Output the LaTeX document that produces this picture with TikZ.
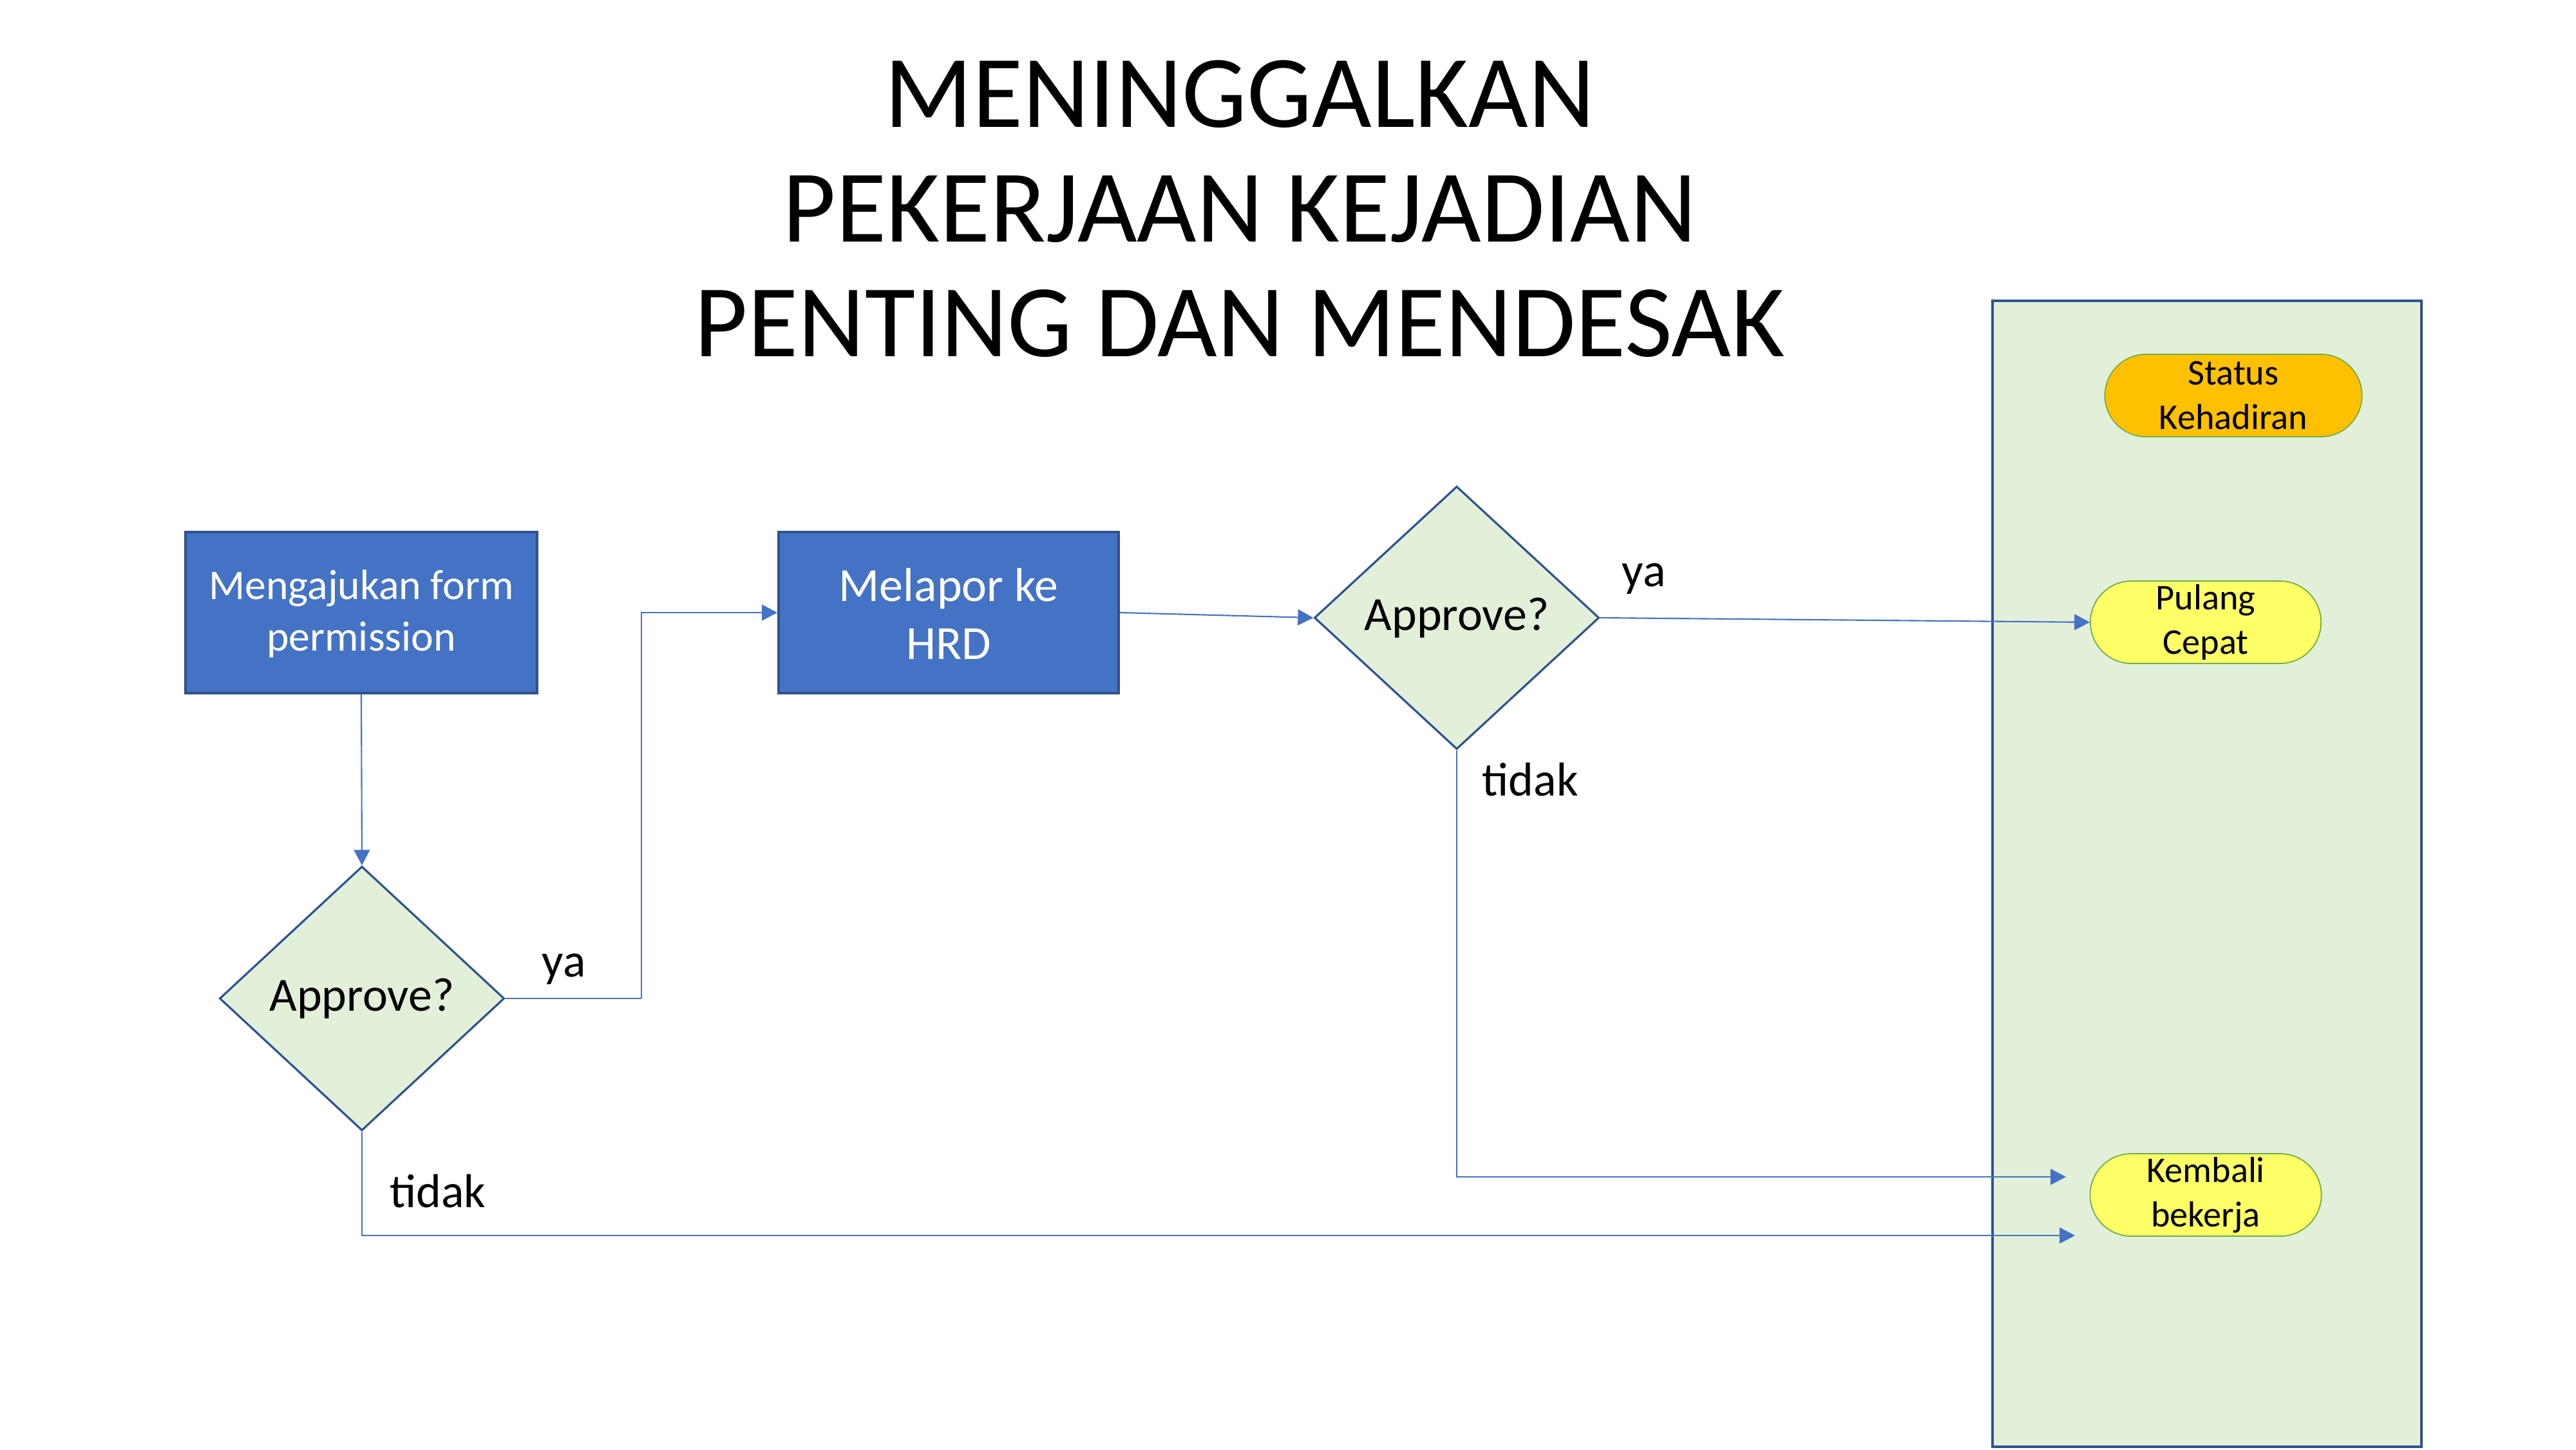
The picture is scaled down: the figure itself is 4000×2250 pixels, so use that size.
\documentclass[tikz,border=0pt]{standalone}
\usepackage{fontspec}
\setmainfont{Carlito}
\usetikzlibrary{shapes.geometric,arrows.meta}
\definecolor{boxblue}{HTML}{4472C4}
\definecolor{darkblue}{HTML}{2F528F}
\definecolor{lightgreen}{HTML}{E2F0D9}
\definecolor{ovalgreen}{HTML}{70AD47}
\definecolor{amber}{HTML}{FFC000}
\definecolor{paleyellow}{HTML}{FFFF66}
\begin{document}
\begin{tikzpicture}[x=0.01cm,y=-0.01cm,
  procbox/.style={draw=darkblue, line width=1pt, fill=boxblue, text=white,
    minimum height=2.5cm, align=center, inner sep=0pt},
  decision/.style={diamond, draw=darkblue, line width=0.9pt, fill=lightgreen,
    minimum width=4.42cm, inner sep=0pt, align=center,
    font=\fontsize{21}{25.6}\selectfont},
  oval/.style={draw=ovalgreen, line width=0.5pt, rounded corners=0.64cm,
    minimum height=1.28cm, inner sep=0pt, align=center,
    font=\fontsize{16}{19.5}\selectfont},
  lbl/.style={anchor=base west, inner sep=0pt, font=\fontsize{21}{25.6}\selectfont},
  conn/.style={draw=boxblue, line width=0.6pt, -{Triangle[length=6.8pt,width=7pt]}},
  plain/.style={draw=boxblue, line width=0.6pt}
]
\useasboundingbox (0,0) rectangle (4000,2250);
\fill[white] (0,0) rectangle (4000,2250);

% swimlane
\draw[draw=darkblue, fill=lightgreen, line width=1.15pt] (3094,467) rectangle (3760,2246);

% title
\node[align=center, inner sep=0pt, font=\fontsize{45.5}{50.6}\selectfont] (title) at (1925,324)
  {MENINGGALKAN\\PEKERJAAN KEJADIAN\\PENTING DAN MENDESAK};

% process boxes
\node[procbox, minimum width=5.46cm, font=\fontsize{18.7}{22.8}\selectfont] (m1) at (561,951)
  {\rule{0pt}{0.5cm}Mengajukan form\\permission};
\node[procbox, minimum width=5.28cm, font=\fontsize{21}{25.6}\selectfont] (m2) at (1473,951)
  {\rule{0pt}{0.55cm}Melapor ke\\HRD};

% decisions
\node[decision, minimum height=4.1cm] (a1) at (562,1550) {Approve?};
\node[decision, minimum height=4.08cm] (a2) at (2262,959) {Approve?};

% status ovals
\node[oval, fill=amber, minimum width=3.99cm] (st) at (3468,614) {Status\\Kehadiran};
\node[oval, fill=paleyellow, minimum width=3.58cm] (pc) at (3425,966) {Pulang\\Cepat};
\node[oval, fill=paleyellow, minimum width=3.59cm] (kb) at (3425,1855) {Kembali\\bekerja};

% labels
\node[lbl] (ya1) at (841,1516) {ya};
\node[lbl] (td1) at (605,1874) {tidak};
\node[lbl] (ya2) at (2518,910) {ya};
\node[lbl] (td2) at (2301,1235) {tidak};

% connectors
\coordinate (k1) at (996,1550);
\coordinate (e2) at (3208,1827);
\coordinate (e1) at (3222,1918);
\draw[conn] (m1.south) -- (a1.north);
\draw[plain] (a1.east) -- (k1);
\draw[conn] (k1) |- (m2.west);
\draw[conn] (m2.east) -- (a2.west);
\draw[conn] (a2.east) -- (pc.west);
\draw[conn] (a2.south) |- (e2);
\draw[conn] (a1.south) |- (e1);
\end{tikzpicture}
\end{document}
